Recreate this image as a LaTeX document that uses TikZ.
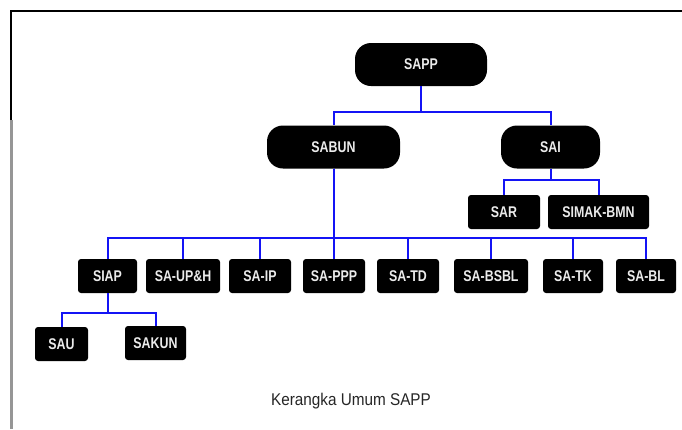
\documentclass[tikz,border=0pt]{standalone}
\usepackage{fontspec}
\setmainfont{Liberation Sans}
\newfontfamily\boxfont[FakeStretch=0.8]{Liberation Sans}
\newfontfamily\capfont[FakeStretch=0.9]{Liberation Sans}
\definecolor{connblue}{RGB}{20,20,245}
\definecolor{framegray}{RGB}{150,150,150}
\definecolor{boxtext}{RGB}{235,235,235}
\begin{document}
\begin{tikzpicture}[x=1pt,y=-1pt,
  pill/.style={fill=black,rounded corners=16pt,inner sep=0pt,minimum height=43pt,text=boxtext,font=\boxfont\bfseries\fontsize{15.5}{15.5}\selectfont},
  box/.style={fill=black,rounded corners=3pt,inner sep=0pt,minimum height=34pt,text=boxtext,font=\boxfont\bfseries\fontsize{15.5}{15.5}\selectfont},
  conn/.style={draw=connblue,line width=2pt},
  caption/.style={font=\capfont\fontsize{17}{17}\selectfont,text=black!85}]
\useasboundingbox (0,0) rectangle (682,429);
\fill[white] (0,0) rectangle (682,429);
% frame
\draw[line width=2.5pt,black] (11,120) -- (11,11) -- (682,11);
\draw[line width=3pt,framegray] (11,120) -- (11,429);
% nodes
\node[pill,minimum width=132pt] (SAPP) at (421,64.5) {SAPP};
\node[pill,minimum width=133pt] (SABUN) at (333.5,147) {SABUN};
\node[pill,minimum width=99pt] (SAI) at (550.5,147) {SAI};
\node[box,minimum width=72pt] (SAR) at (504,212) {SAR};
\node[box,minimum width=101pt] (SIMAK) at (598.5,212) {SIMAK-BMN};
\node[box,minimum width=59pt] (SIAP) at (107.5,276) {SIAP};
\node[box,minimum width=74pt] (SAUPH) at (183,276) {SA-UP\&H};
\node[box,minimum width=62pt] (SAIP) at (260,276) {SA-IP};
\node[box,minimum width=62pt] (SAPPP) at (334,276) {SA-PPP};
\node[box,minimum width=62pt] (SATD) at (408,276) {SA-TD};
\node[box,minimum width=74pt] (SABSBL) at (491,276) {SA-BSBL};
\node[box,minimum width=60pt] (SATK) at (573,276) {SA-TK};
\node[box,minimum width=60pt] (SABL) at (646,276) {SA-BL};
\node[box,minimum width=53pt] (SAU) at (61.5,344) {SAU};
\node[box,minimum width=61pt] (SAKUN) at (155.5,343) {SAKUN};
\node[caption] (cap) at (351,401) {Kerangka Umum SAPP};
% bus levels
\coordinate (b1) at (0,112);
\coordinate (b2) at (0,180);
\coordinate (b3) at (0,238);
\coordinate (b4) at (0,313);
% connectors
\foreach \c in {SABUN,SAI}
  \draw[conn] (SAPP.south) |- (b1 -| \c.north) -- (\c.north);
\foreach \c in {SAR,SIMAK}
  \draw[conn] (SAI.south) |- (b2 -| \c.north) -- (\c.north);
\foreach \c in {SIAP,SAUPH,SAIP,SAPPP,SATD,SABSBL,SATK,SABL}
  \draw[conn] (SABUN.south) |- (b3 -| \c.north) -- (\c.north);
\foreach \c in {SAU,SAKUN}
  \draw[conn] (SIAP.south) |- (b4 -| \c.north) -- (\c.north);
\end{tikzpicture}
\end{document}
